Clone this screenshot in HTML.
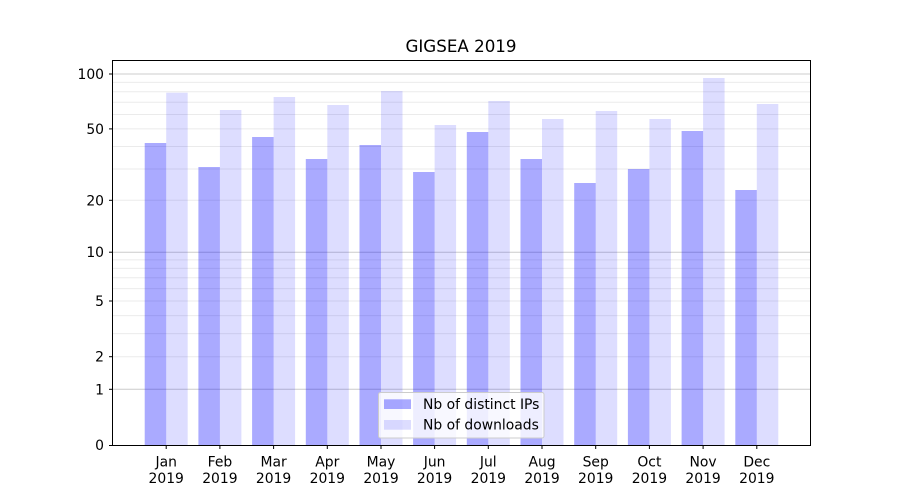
<!DOCTYPE html>
<html><head><meta charset="utf-8"><style>
html,body{margin:0;padding:0;background:#fff;}
svg{display:block;}
text{font-family:"DejaVu Sans","Liberation Sans",sans-serif;fill:#000;}
</style></head><body>
<svg width="900" height="500" viewBox="0 0 900 500" xmlns="http://www.w3.org/2000/svg">
<rect x="0" y="0" width="900" height="500" fill="#fff"/>
<!-- minor grid -->
<g stroke="#b0b0b0" stroke-opacity="0.25" stroke-width="1">
<line x1="112.5" x2="810" y1="356.7" y2="356.7"/>
<line x1="112.5" x2="810" y1="333.6" y2="333.6"/>
<line x1="112.5" x2="810" y1="315.6" y2="315.6"/>
<line x1="112.5" x2="810" y1="301.0" y2="301.0"/>
<line x1="112.5" x2="810" y1="288.6" y2="288.6"/>
<line x1="112.5" x2="810" y1="277.8" y2="277.8"/>
<line x1="112.5" x2="810" y1="268.4" y2="268.4"/>
<line x1="112.5" x2="810" y1="259.9" y2="259.9"/>
<line x1="112.5" x2="810" y1="200.3" y2="200.3"/>
<line x1="112.5" x2="810" y1="169.0" y2="169.0"/>
<line x1="112.5" x2="810" y1="146.5" y2="146.5"/>
<line x1="112.5" x2="810" y1="128.9" y2="128.9"/>
<line x1="112.5" x2="810" y1="114.5" y2="114.5"/>
<line x1="112.5" x2="810" y1="102.3" y2="102.3"/>
<line x1="112.5" x2="810" y1="91.7" y2="91.7"/>
<line x1="112.5" x2="810" y1="82.4" y2="82.4"/>
</g>
<!-- major grid -->
<g stroke="#b0b0b0" stroke-opacity="0.65" stroke-width="1">
<line x1="112.5" x2="810" y1="389.3" y2="389.3"/>
<line x1="112.5" x2="810" y1="252.2" y2="252.2"/>
<line x1="112.5" x2="810" y1="74.0" y2="74.0"/>
</g>
<!-- bars -->
<g fill="#0000ff" fill-opacity="0.335">
<rect x="144.7" y="143" width="21.5" height="302"/>
<rect x="198.4" y="167" width="21.5" height="278"/>
<rect x="252.1" y="137" width="21.5" height="308"/>
<rect x="305.8" y="159" width="21.5" height="286"/>
<rect x="359.5" y="145" width="21.5" height="300"/>
<rect x="413.1" y="172" width="21.5" height="273"/>
<rect x="466.8" y="132" width="21.5" height="313"/>
<rect x="520.5" y="159" width="21.5" height="286"/>
<rect x="574.2" y="183" width="21.5" height="262"/>
<rect x="627.9" y="169" width="21.5" height="276"/>
<rect x="681.6" y="131" width="21.5" height="314"/>
<rect x="735.3" y="190" width="21.5" height="255"/>
</g>
<g fill="#0000ff" fill-opacity="0.135">
<rect x="166.2" y="92.7" width="21.5" height="352.3"/>
<rect x="219.9" y="110" width="21.5" height="335"/>
<rect x="273.6" y="97" width="21.5" height="348"/>
<rect x="327.3" y="105" width="21.5" height="340"/>
<rect x="381.0" y="91" width="21.5" height="354"/>
<rect x="434.6" y="125" width="21.5" height="320"/>
<rect x="488.3" y="101" width="21.5" height="344"/>
<rect x="542.0" y="119" width="21.5" height="326"/>
<rect x="595.7" y="111" width="21.5" height="334"/>
<rect x="649.4" y="119" width="21.5" height="326"/>
<rect x="703.1" y="78" width="21.5" height="367"/>
<rect x="756.8" y="104" width="21.5" height="341"/>
</g>
<!-- spines -->
<rect x="112.5" y="60.5" width="698" height="385" fill="none" stroke="#000" stroke-width="1"/>
<!-- y ticks -->
<g stroke="#000" stroke-width="1">
<line x1="109" x2="112.5" y1="445.5" y2="445.5"/>
<line x1="109" x2="112.5" y1="389.3" y2="389.3"/>
<line x1="109" x2="112.5" y1="356.7" y2="356.7"/>
<line x1="109" x2="112.5" y1="301.0" y2="301.0"/>
<line x1="109" x2="112.5" y1="252.2" y2="252.2"/>
<line x1="109" x2="112.5" y1="200.3" y2="200.3"/>
<line x1="109" x2="112.5" y1="128.9" y2="128.9"/>
<line x1="109" x2="112.5" y1="74.0" y2="74.0"/>
</g>
<g font-size="13.9" text-anchor="end">
<text x="104" y="450">0</text>
<text x="104" y="394.3">1</text>
<text x="104" y="361.7">2</text>
<text x="104" y="306">5</text>
<text x="104" y="257.2">10</text>
<text x="104" y="205.3">20</text>
<text x="104" y="133.9">50</text>
<text x="104" y="79">100</text>
</g>
<!-- x ticks -->
<g stroke="#000" stroke-width="1">
<line x1="166.2" x2="166.2" y1="445" y2="449"/>
<line x1="219.9" x2="219.9" y1="445" y2="449"/>
<line x1="273.6" x2="273.6" y1="445" y2="449"/>
<line x1="327.3" x2="327.3" y1="445" y2="449"/>
<line x1="381.0" x2="381.0" y1="445" y2="449"/>
<line x1="434.6" x2="434.6" y1="445" y2="449"/>
<line x1="488.3" x2="488.3" y1="445" y2="449"/>
<line x1="542.0" x2="542.0" y1="445" y2="449"/>
<line x1="595.7" x2="595.7" y1="445" y2="449"/>
<line x1="649.4" x2="649.4" y1="445" y2="449"/>
<line x1="703.1" x2="703.1" y1="445" y2="449"/>
<line x1="756.8" x2="756.8" y1="445" y2="449"/>
</g>
<g font-size="13.9" text-anchor="middle">
<text x="166.2" y="466.5">Jan</text><text x="166.2" y="483">2019</text>
<text x="219.9" y="466.5">Feb</text><text x="219.9" y="483">2019</text>
<text x="273.6" y="466.5">Mar</text><text x="273.6" y="483">2019</text>
<text x="327.3" y="466.5">Apr</text><text x="327.3" y="483">2019</text>
<text x="381.0" y="466.5">May</text><text x="381.0" y="483">2019</text>
<text x="434.6" y="466.5">Jun</text><text x="434.6" y="483">2019</text>
<text x="488.3" y="466.5">Jul</text><text x="488.3" y="483">2019</text>
<text x="542.0" y="466.5">Aug</text><text x="542.0" y="483">2019</text>
<text x="595.7" y="466.5">Sep</text><text x="595.7" y="483">2019</text>
<text x="649.4" y="466.5">Oct</text><text x="649.4" y="483">2019</text>
<text x="703.1" y="466.5">Nov</text><text x="703.1" y="483">2019</text>
<text x="756.8" y="466.5">Dec</text><text x="756.8" y="483">2019</text>
</g>
<!-- title -->
<text x="461" y="52" font-size="16.7" text-anchor="middle">GIGSEA 2019</text>
<!-- legend -->
<rect x="378.5" y="392.5" width="165.5" height="45.5" rx="2" ry="2" fill="#fff" fill-opacity="0.8" stroke="#cccccc" stroke-width="1"/>
<rect x="384" y="399.3" width="27" height="9.7" fill="#0000ff" fill-opacity="0.335"/>
<rect x="384" y="420" width="27" height="9.7" fill="#0000ff" fill-opacity="0.135"/>
<g font-size="13.9">
<text x="423" y="409">Nb of distinct IPs</text>
<text x="423" y="429.5">Nb of downloads</text>
</g>
</svg>
</body></html>
